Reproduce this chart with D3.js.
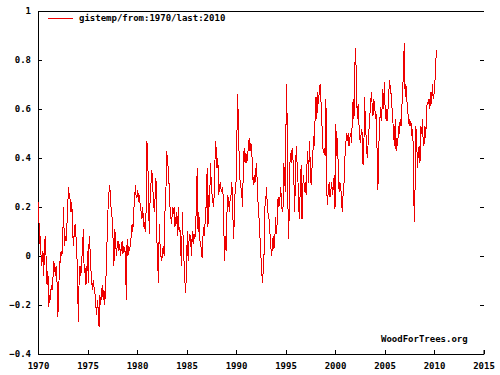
<!DOCTYPE html>
<html>
<head>
<meta charset="utf-8">
<script src="https://cdn.jsdelivr.net/npm/d3@7"></script>
<style>
  body { margin: 0; background: #fff; }
  text { font-family: "DejaVu Sans Mono", monospace; font-weight: bold; font-size: 9px; fill: #000; }
</style>
</head>
<body>
<div id="chart"></div>
<script>
// monthly gistemp anomaly, Jan 1970 onwards
const temps1970s = [
  0.22, 0.16, 0.05, 0.08, -0.04, -0.02, 0.02, -0.08, 0.06, 0.08, -0.03, -0.12,
  -0.06, -0.21, -0.16, -0.18, -0.12, -0.14, -0.10, -0.02, -0.04, -0.08, -0.04, -0.10,
  -0.25, -0.17, -0.02, -0.03, 0.02, 0.00, 0.08, 0.20, 0.04, 0.08, 0.06, 0.12,
  0.20, 0.28, 0.24, 0.23, 0.18, 0.22, 0.10, 0.04, 0.10, 0.13, 0.08, 0.03,
  -0.12, -0.27, -0.06, -0.04, -0.08, -0.02, 0.04, 0.11, -0.07, -0.05, -0.12, -0.08,
  0.02, -0.11, 0.08, 0.03, -0.05, -0.10, -0.14, -0.10, -0.13, -0.15, -0.20, -0.24,
  -0.18, -0.22, -0.29, -0.16, -0.20, -0.15, -0.12, -0.18, -0.14, -0.20, -0.10, -0.06,
  0.12, 0.20, 0.26, 0.29, 0.22, 0.18, 0.15, 0.07, -0.04, 0.11, 0.07, 0.00,
  0.04, 0.06, 0.02, 0.05, 0.00, 0.03, 0.06, 0.01, 0.04, 0.02, 0.02, -0.18,
  0.07, 0.00, 0.04, 0.02, 0.05, 0.08, 0.13, 0.10, 0.19, 0.22, 0.29, 0.24
];
const temps1980s = [
  0.24, 0.27, 0.22, 0.25, 0.20, 0.18, 0.15, 0.20, 0.12, 0.14, 0.10, 0.18,
  0.47, 0.42, 0.21, 0.09, 0.25, 0.30, 0.35, 0.29, 0.22, 0.18, 0.24, 0.32,
  0.08, -0.02, -0.11, 0.13, 0.04, 0.00, -0.02, 0.02, 0.04, 0.00, 0.19, 0.25,
  0.43, 0.38, 0.36, 0.28, 0.20, 0.16, 0.13, 0.20, 0.17, 0.20, 0.12, 0.15,
  0.18, 0.08, 0.20, 0.10, 0.12, 0.02, -0.04, 0.18, 0.06, -0.02, -0.10, -0.15,
  -0.05, 0.10, -0.02, 0.06, 0.09, 0.07, 0.00, 0.10, 0.05, 0.09, 0.07, 0.10,
  0.22, 0.36, 0.10, 0.18, 0.07, 0.05, 0.03, -0.01, 0.08, 0.12, 0.08, 0.20,
  0.20, 0.36, 0.12, 0.25, 0.20, 0.38, 0.30, 0.25, 0.22, 0.20, 0.30, 0.47,
  0.44, 0.36, 0.40, 0.25, 0.28, 0.30, 0.27, 0.26, 0.28, 0.17, -0.02, 0.08,
  0.02, 0.17, 0.25, 0.22, 0.18, 0.24, 0.25, 0.30, 0.20, 0.07, 0.15, 0.28
];
const temps1990s = [
  0.30, 0.47, 0.66, 0.52, 0.38, 0.30, 0.28, 0.25, 0.20, 0.40, 0.44, 0.38,
  0.42, 0.38, 0.40, 0.45, 0.48, 0.43, 0.46, 0.44, 0.35, 0.29, 0.33, 0.30,
  0.35, 0.38, 0.26, 0.20, 0.15, 0.08, 0.01, -0.05, -0.11, -0.06, 0.01, 0.20,
  0.22, 0.28, 0.20, 0.17, 0.15, 0.10, 0.05, 0.00, 0.03, 0.08, 0.03, 0.06,
  0.16, 0.09, 0.14, 0.24, 0.20, 0.22, 0.28, 0.24, 0.18, 0.20, 0.38, 0.30,
  0.26, 0.70, 0.56, 0.20, 0.07, 0.35, 0.42, 0.38, 0.44, 0.40, 0.34, 0.18,
  0.30, 0.45, 0.38, 0.32, 0.20, 0.15, 0.30, 0.37, 0.15, 0.29, 0.33, 0.26,
  0.30, 0.25, 0.37, 0.43, 0.30, 0.47, 0.38, 0.29, 0.35, 0.40, 0.49, 0.45,
  0.58, 0.65, 0.56, 0.67, 0.62, 0.68, 0.70, 0.63, 0.56, 0.45, 0.42, 0.44,
  0.41, 0.64, 0.26, 0.21, 0.28, 0.30, 0.24, 0.27, 0.30, 0.25, 0.28, 0.33
];
const temps2000s = [
  0.19, 0.54, 0.41, 0.48, 0.35, 0.26, 0.30, 0.29, 0.21, 0.18, 0.27, 0.30,
  0.40, 0.45, 0.50, 0.47, 0.50, 0.45, 0.48, 0.50, 0.46, 0.56, 0.64, 0.56,
  0.77, 0.85, 0.70, 0.56, 0.62, 0.54, 0.48, 0.46, 0.52, 0.50, 0.37, 0.45,
  0.65, 0.50, 0.49, 0.40, 0.45, 0.50, 0.57, 0.60, 0.67, 0.62, 0.57, 0.64,
  0.62, 0.56, 0.58, 0.43, 0.27, 0.45, 0.51, 0.61, 0.55, 0.60, 0.68, 0.60,
  0.71, 0.56, 0.60, 0.55, 0.58, 0.65, 0.72, 0.69, 0.66, 0.61, 0.56, 0.50,
  0.45, 0.56, 0.43, 0.48, 0.45, 0.53, 0.50, 0.56, 0.53, 0.61, 0.66, 0.77,
  0.87, 0.65, 0.70, 0.63, 0.62, 0.54, 0.56, 0.53, 0.55, 0.49, 0.52, 0.43,
  0.14, 0.27, 0.53, 0.47, 0.36, 0.42, 0.45, 0.38, 0.53, 0.50, 0.56, 0.45,
  0.46, 0.53, 0.48, 0.60, 0.63, 0.62, 0.64, 0.60, 0.67, 0.62, 0.70, 0.64
];
const temps2010 = [0.66, 0.70, 0.78, 0.84];

const startYear = 1970;
const xTicks = [1970, 1975, 1980, 1985, 1990, 1995, 2000, 2005, 2010, 2015];
const yTicks = [-0.4, -0.2, 0, 0.2, 0.4, 0.6, 0.8, 1];
const seriesLabel = 'gistemp/from:1970/last:2010';
const creditLabel = 'WoodForTrees.org';

const temps = [].concat(temps1970s, temps1980s, temps1990s, temps2000s, temps2010);
const data = temps.map((v, i) => ({ t: startYear + i / 12, v: v }));

const width = 500;
const height = 375;
const margin = { top: 11, right: 16.5, bottom: 21, left: 38 };

const svg = d3.select('#chart')
  .append('svg')
  .attr('width', width)
  .attr('height', height);

svg.append('rect').attr('width', width).attr('height', height).attr('fill', '#fff');

const x = d3.scaleLinear()
  .domain([1970, 2015])
  .range([margin.left, width - margin.right]);

const y = d3.scaleLinear()
  .domain([-0.4, 1])
  .range([height - margin.bottom, margin.top]);

const fmtY = d => d === 0 ? '0' : d === 1 ? '1' : d3.format('.1f')(d);

// bottom axis, ticks pointing inward
svg.append('g')
  .attr('transform', `translate(0,${y(-0.4)})`)
  .call(d3.axisBottom(x).tickValues(xTicks).tickFormat(d3.format('d')).tickSize(-4).tickPadding(9))
  .call(g => g.select('.domain').attr('stroke', '#000'))
  .call(g => g.selectAll('line').attr('shape-rendering', 'crispEdges'))
  .call(g => g.selectAll('text').attr('font-family', null).attr('font-size', null));

// left axis
svg.append('g')
  .attr('transform', `translate(${x(1970)},0)`)
  .call(d3.axisLeft(y).tickValues(yTicks).tickFormat(fmtY).tickSize(-4).tickPadding(7))
  .call(g => g.selectAll('line').attr('shape-rendering', 'crispEdges'))
  .call(g => g.selectAll('text').attr('font-family', null).attr('font-size', null));

// top edge
svg.append('line')
  .attr('x1', x(1970)).attr('x2', x(2015))
  .attr('y1', y(1)).attr('y2', y(1))
  .attr('stroke', '#000')
  .attr('shape-rendering', 'crispEdges');

// right side ticks
svg.append('g')
  .selectAll('line')
  .data(yTicks)
  .join('line')
  .attr('x1', x(2015) - 4).attr('x2', x(2015))
  .attr('y1', d => y(d)).attr('y2', d => y(d))
  .attr('stroke', '#000')
  .attr('shape-rendering', 'crispEdges');

const line = d3.line()
  .x(d => x(d.t))
  .y(d => y(d.v));

svg.append('path')
  .datum(data)
  .attr('fill', 'none')
  .attr('stroke', '#ee0000')
  .attr('stroke-width', 1)
  .attr('shape-rendering', 'crispEdges')
  .attr('d', line);

// legend
svg.append('line')
  .attr('x1', 48).attr('x2', 73)
  .attr('y1', 18).attr('y2', 18)
  .attr('stroke', '#ee0000')
  .attr('shape-rendering', 'crispEdges');
svg.append('text')
  .attr('x', 79).attr('y', 21)
  .text(seriesLabel);

svg.append('text')
  .attr('x', 381).attr('y', 342)
  .attr('font-size', '9.5px')
  .text(creditLabel);
</script>
</body>
</html>
